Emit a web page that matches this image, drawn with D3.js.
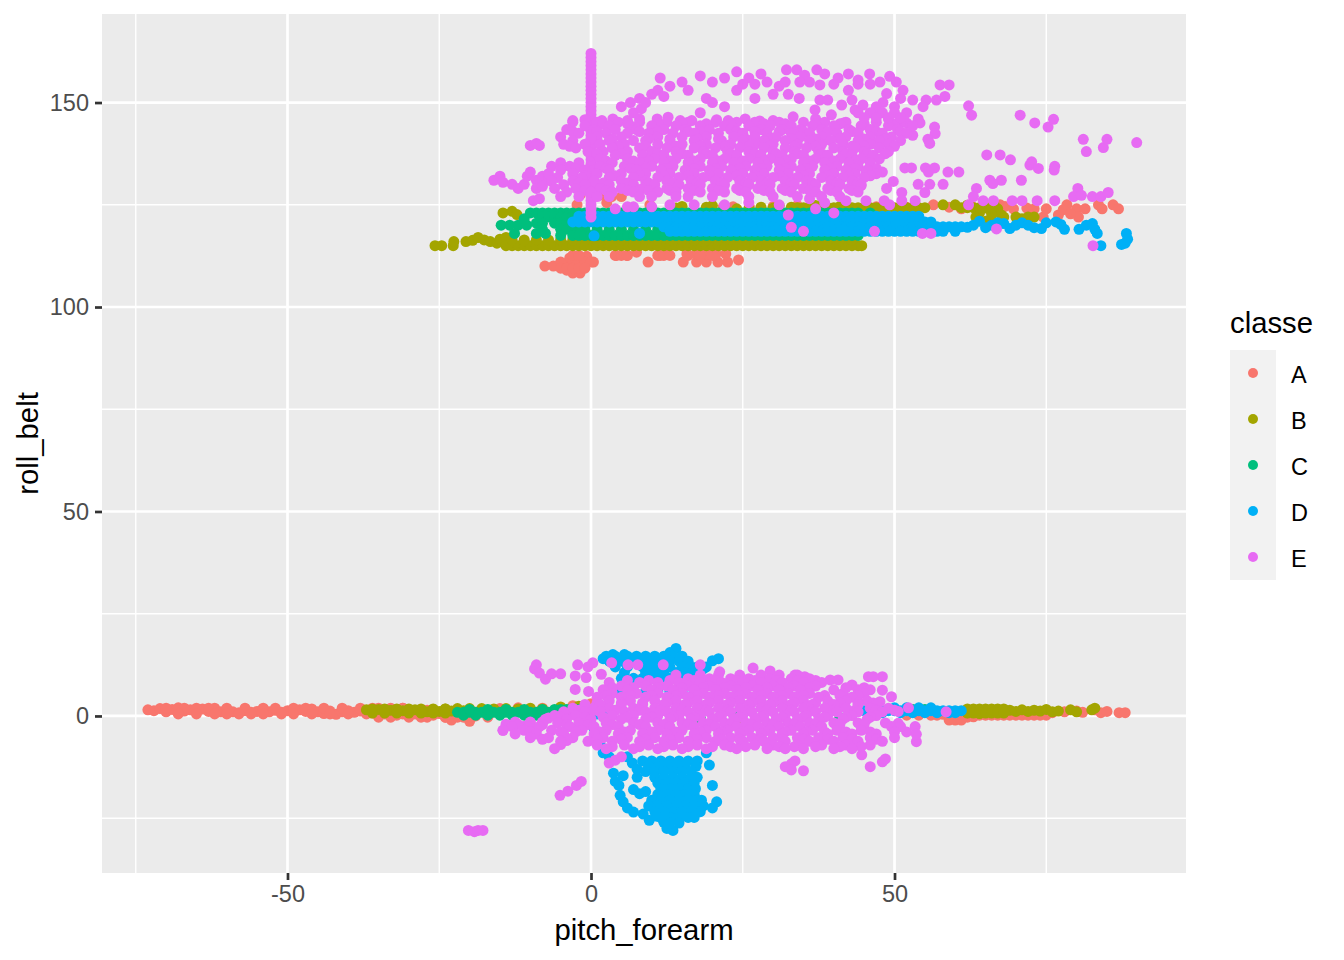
<!DOCTYPE html>
<html>
<head>
<meta charset="utf-8">
<script src="https://cdn.jsdelivr.net/npm/d3@7"></script>
<style>
body { margin: 0; background: white; }
text { font-family: "Liberation Sans", Arial, sans-serif; }
</style>
</head>
<body>
<script>
// values: [pitch_forearm, roll_belt]
var classA = [
[-73,1.5],[-72,1.3],[-71,1.8],[-70,1],[-69,1.6],[-68,2],[-67,1.2],[-66,1.5],[-65,1.2],[-64,1.7],[-63,1.1],[-62,1.9],[-61,1],[-60,1.5],[-59,1],[-58,.8],[-57,1.3],[-56,.9],[-55,1.1],[-54,1.7],[-53,1],[-52,1.4],[-51,.9],[-50,1.3],[-49,.9],[-48,1.5],[-47,1.1],[-46,1.7],[-45,1],[-44,.6],[-43,1.2],[-42,.4],[-41,1],[-40,1.3],[-39,.9],[-38,1.2],[-37,1],[-36,.7],[-35,1.2],[-34,.5],[-33,1.6],[-32,.2],[-31,1.9],[-30,.4],[-29,1.1],[-28,-.1],[-27,1.4],[-26,.2],[-25,.6],[-24,-.3],[-23,-1],[-22,.8],[-20,-1.3],[-19,0],[-17,-.3],[-15,1.8],[-12,2],[-8,1.9],
[-3,2.5],[0,3],[55,1],[58,.4],[60,-.8],[61,.2],[62,-.3],[63,-.2],[64,.4],[66,.6],[68,.9],[70,.8],[72,.9],[74,.6],[76,.8],[78,1],[80,1.2],[81,.9],[83,1.5],[84,.8],[85,1.1],[87,.8],[88,.8],
[-7.6,110],[-6.2,110],[-4.6,110.6],[-3.5,112],[-1.8,112],[-.7,112.4],[.4,111],[-4,109],[-3,108.3],[-1.8,108.3],[-1.3,109.8],[-2.6,110.4],[9.4,111],[4.2,112.6],[5.9,112.6],[7.5,113.4],[11.4,112.6],[12.7,113],[15.2,111],[17.4,111],[19,111],[20.9,111],[22.5,111],[24.3,111.5],[15.8,113],[17.4,113],[19,113],[20.6,113],[22.2,113],
[-1.8,127.4],[-.1,129],[1.5,127.4],[3.4,127],[5,127],[2.6,125.5],[-2.3,125],[9.7,125],[21.8,124.5],[23.4,124.5],[26.1,124.5],[30,124.6],[34,124.8],[38,124.6],[42,124.8],[47,124.5],[52,124.4],[56.4,125],[59,124.4],[61,124],[63,124.4],[65,124.6],[67.4,125],[68.2,124.6],[69.6,124],[71.8,124.2],[73,124],[74.5,122],[75,124],[77,122.5],[78.4,125],[77.8,123.8],[80,124],[80.3,122],[81.4,124],[79,122.8],[83.6,125],[84.2,124],[86,125],[86.9,124]
];
// rows of the same class: [roll_belt, [pitch_forearm, ...]]
var classA_rows = [
[1.9,[-70,-67,-65,-63,-60,-57,-54,-52,-49,-47,-44,-41,-38,-36,-35,-33,-31]],
[.5,[-68,-65,-62,-60,-58,-56,-54,-51,-49,-46,-43,-40,-37,-35,-33,-31,-29,-27]],
[-.3,[-35,-33,-30,-28,-27,-24,-22,-21,-20]],
[.2,[52,54,56,57,59,60,61,62,63,64,65,66,67,68,69,70,71,72,73,74,75]],
[-1,[59,60,61]],
[111,[-5,-3,-2,-1,0]],
[109.5,[-5,-4,-3,-2,-1]],
[112.6,[-3,-2,4,5,6,11,12,13,16,18,20]]
];
var classB = [
[-37,1.5],[-36,1.2],[-35,1.6],[-34,1.1],[-33,1.4],[-32,1.1],[-31,1.3],[-30,1],[-29,1.5],[-28,.9],[-27,1],[-26,1.6],[-25,1.1],[-24,1.7],[-23,1.2],[-22,1.8],[-21,1.3],[-20,1.8],[-18,1.8],[-16,1.7],[-14,1.8],[-12,1.7],[-10,1.9],[-8,1.7],[-5,2.2],[-2,2.4],[18,-.9],[24,-.9],[31,3.8],
[62,.8],[63,1.2],[64,.6],[65,1.2],[66,1],[67,1.6],[68,1],[69,1.4],[70,1.1],[71,1.5],[72,1.1],[73,1.4],[74,1.2],[75,1.6],[76,1],[77,1.2],[79,1.5],[80,1],[82.5,1.5],[83,1.9],
[-25.7,115],[-24.6,115],[-22.7,115],[-22.6,116],[-20.6,116],[-19.5,116.3],[-18.6,117],[-17.6,116.4],[-16.6,116],[-15.5,115.6],[-15,116.6],[-14,117],
[-14.5,123],[-13,123.4],[-12.2,122.6],
[10,124],[14,124.2],[15,124.6],[19,124.4],[20,124.8],[24,124],[26,124],[28,124.4],[30,124.2],[31,124.8],[33,124.4],[37,124.8],[41,124.6],[42,125],[58,125],[60,125],[62,124.9],[63.4,122],[64,123],[65.5,124],[66.4,125],[67,124],[67.6,122.5],[66,122.5],[65,121],[68,122],[70,122],[71,121.6],[72,122],[73,122],
[-2,120],[15,116],[28,123.2]
];
var classB_rows = [
[115,[-14,-13,-12,-11,-10,-9,-8,-7,-6,-5,-4,-3,-2,-1,0,1,2,3,4,5,6,7,8,9,10,11,12,13,14,15,16,17,18,19,20,21,22,23,24,25,26,27,28,29,30,31,32,33,34,35,36,37,38,39,40,41,42,43,44,44.6]],
[116.4,[-13,-11,-9,-7,-5,-3,-1,1,3,5,7,9,11,13,15,17,19,21,23,25,27,29,31,33,35,37,39,41,43]],
[124.3,[34,35,36,37,38,39,40,41,42,43,44,45,46,47,48,49,50,51,52,53,54,55,61,62,63,64,65,66]],
[1.7,[-36,-34,-32,-30,-28,-26,-24,62,63,64,65,66,67,68]],
[.7,[-36,-34,-32,-30,-28,-26,-24,62,63,64,65,66,67,68]]
];
var classC = [
[18,-.5],[24,-.2],[30,3.5],[41,-.4],
[-14.8,120],[-13.4,120],[-12,120],[-10.6,120],[-12.6,118],[-11,121.6],[-10,123],[-9,118],[-7.5,118],[-9,120.5]
];
var classC_rows = [
[.9,[-22,-21,-20,-19,-18,-17,-16,-15,-14,-13,-12,-11,-10,-9,-8,-7,-6,-5,-4,-3,-2,-1,0,1,2]],
[.2,[-21,-19,-17,-15,-13,-11,-9,-7]],
[1.6,[-20,-17,-14,-11,-8,-6,-5,-4,-3,-2,-1,0,1,2,53,54,55]],
[123,[-9,-8,-7,-6,-5,-4,-3,-2,-1,0,1,2,3,4,5,6,7,8,9,10,11,12,13,14,15,16,17,18,19,20,21,22,23,24,25,26,27,28,29,30,31,32,33,34,35,36,37,38,39,40,41,42,43,44,46]],
[122,[-8,-7,-6,-5,-4,-3,-2,-1]],
[120.5,[-8,-6,-5,-4,-3,-2,-1]],
[119,[-8,-5,-4,-3,-2,-1,1,3,5,7,9,11,13,15,17,19]],
[117.5,[-5,-3,-2,-1,0,1,2,3,4,5,6,7,8,9,10,11,12,13,14,15,16,17,18,19,20,21,22,23,24,25,26,27,28,29,30,31,32,33,34,35,36,37,38,39,40,41,42,43,44]]
];
var classD = [
[62,119.5],[63,120],[64,121],[65,119.4],[66,120],[67,120.6],[68,120.4],[69,119.2],[70,120],[71,120.6],[72,120],[73,119.4],[74.2,119.2],[75,120.6],[76.6,120.8],[77.4,120.2],[78,119],
[80.4,119],[81.6,120],[82.6,120.4],[83,119],[83.4,118],[84,115],[87.4,115.3],[88,115.6],[88.4,116.6],[88.2,118],[.5,117.4],
[8,118],[2,14],[3,13.6],[3.6,15],[5.5,15],[13,15.5],[14,16.5],[19,12],[20,13.5],[21,14],[18.5,11.5],[17.8,10],
[3,6],[4,6],[5,5.5],[2,1],[1,.5],[0,-2],[.5,-3],[1,-5],[1.5,-7],[2,-9],[3,-10],
[6,-10],[6.8,-11.5],[7.6,-13],[7.6,-15],[3.7,-14],[5.3,-14.6],[4,-16],[4.6,-17],[7,-18],[8,-19],[9,-18.5],[4.8,-19.4],[5.3,-21],[6,-22.5],[7,-23.5],
[8.6,-24],[9.6,-25.5],[10.8,-24.5],[12,-26],[12.5,-27.5],[13.5,-28],[14.5,-25],[20,-17],[20.7,-21],[20,-22.5],[19,-9],[19.5,-12]
];
var classD_rows = [
[122.2,[-2,-1,0,1,2,3,4,5,6,7,8,9,10,11,12,13,14,15,16,17,18,19,20,21,22,23,24,25,26,27,28,29,30,31,32,33,34,35,36,37,38,39,40,41,42,43,44,45,46,47,48,49,50,51,52,53,54]],
[120.8,[-3,-2,-1,0,1,2,3,4,5,6,7,8,9,10,11,12,13,14,15,16,17,18,19,20,21,22,23,24,25,26,27,28,29,30,31,32,33,34,35,36,37,38,39,40,41,42,43,44,45,46,47,48,49,50,51,52,53,54,55,56]],
[119.6,[12,13,14,15,16,17,18,19,20,21,22,23,24,25,26,27,28,29,30,31,32,33,34,35,36,37,38,39,40,41,42,43,44,45,46,47,48,49,50,51,52,53,54,55,56,57,58,59,60,61]],
[118.5,[13,14,15,16,17,18,19,20,21,22,23,24,25,26,27,28,29,30,31,32,33,34,35,36,37,38,39,40,41,42,43,44,45,46,47,48,49,50,51,52,53,54,55,56,57,58,60]],
[14.6,[2.5,4,6,7.5,9,10.5,12,13.5,15]],
[13.4,[3,5,7,8.5,10,11.5,13,14.5,16]],
[12,[4,6,8.5,10,11.5,13,15,16.5,17.5]],
[10.6,[5.5,9,10.5,12,14,15.5,17]],
[9.2,[5,7,8.5,10,11.5,13,14.5,16,17.5]],
[6,[7,9,11,13,15,17]],
[-11,[8.5,10,11.5,13,14.5,16,17.5]],
[-12.3,[9.5,11,12.5,14,15.5,17.3]],
[-13.6,[9,10.5,12,13.5,15,16.5]],
[-15,[10.5,12,13.5,15,16.5,17.5]],
[-16.4,[11,12.5,14,15.5,17]],
[-17.8,[11.5,13,14.5,16,17.2]],
[-19.2,[11,12.5,14,15.5,17]],
[-20.6,[10,11.5,13,14.5,16,17.5,18.2]],
[-22,[9.5,11,12.5,14,15.5,17,18.5]],
[-23.4,[10.5,12,13.5,15,16.5,18]],
[-24.8,[11.5,13,14.5,16,17]],
[-26.2,[13,14.5]],
[1.3,[44,45,46,47,48,49,50,51,52,53,54,55,56,57,58,59,60,61]],
[2,[50,52,54,56]],
[.8,[46,48,51,53,55,57,59,60]]
];
var classE = [
[0,122],[0,123],[0,124],[0,125],[0,126],[0,127],[0,128],[0,129],[0,130],[0,131],[0,132],[0,133],[0,134],[0,135],[0,136],[0,137],[0,138],[0,139],[0,140],[0,141],[0,142],[0,143],[0,144],[0,145],[0,146],[0,147],[0,148],[0,149],[0,150],[0,151],[0,152],[0,153],[0,154],[0,155],[0,156],[0,157],[0,158],[0,159],[0,160],[0,161],[0,162],
[-16,131],[-15,132],[-14.5,130.5],[-13,130],[-12,129],[-11,130],[-10.5,132],[-10,133],[-9,131],[-9,129],[-8,132],[-8,129.5],[-7,131],[-10,139.5],[-9,140],[-8.5,139.5],[-9.5,126],[-8.5,126.5],
[-3,145.6],[-1,145.8],[1.8,145.6],[3.6,146],[6,145.6],[8,146],[10.9,146],[12.7,146.4],[14.7,145.6],[16.6,145.6],[18,147.5],[20.7,145.8],[22.6,145.6],[25.4,146],[27.8,145.5],[30,145.6],[33.3,146.5],[37,146],[41.6,145],[46.8,146.9],[49,146],[51,146],[52,145],[53,142],
[53.9,146],[54.2,145],[56.6,144],[56.7,142.4],[55.5,141],[55.8,140],
[5,149],[6.5,150],[8,151],[7,147.5],[8.3,148.5],[10,152],[9,150],[11,153],[12,151.5],[11.4,156],[13,154],[15,155],[16,153],[19,151],[20,150],[22,149],[18,156.5],[20,155],[22,156],[24,157.5],[26,156],[28,157],[24,153],[27,151],[30,152],[29,155],[31,154],
[32.2,158],[33.9,158],[35.2,156.7],[37.2,158],[38.5,157],[37.7,154.3],[34.4,155],[36,155],[32,155],[32.5,152],[34.3,151],
[40.7,156],[42.4,157],[44,155.5],[45.9,157],[42.4,153],[47.6,155],[49.2,156.4],[50.3,155],[51.4,153],[48.7,152.2],[48.1,150],[53,150.6],[55.2,150.6],[54.7,149],[56.9,150.6],[58.3,151.5],[37.7,150.6],[39,150.6],[36.9,148.2],[39.6,147],[41.3,149.4],[43,150.6],[43.5,148.2],[44.8,149.4],[50,149],[51,151],[47,149],
[57.5,154.3],[59,154.3],[62.2,149.2],[62.7,146.9],[70.7,146.9],[73.1,145],[75.3,144],[76.2,145.9],[81.1,141],[81.6,138],[84.4,139],[85,141],[89.9,140.2],
[65.2,137.2],[67.4,137.2],[69.1,136],[72.3,134.7],[72.6,135.5],[73.7,133.9],[76.4,134.4],[76.3,133.5],[70.9,131],[65.7,131],[67.6,131],[66.2,130.2],[63.5,129],[63,127],[62.2,125],[64.6,126],[66.3,126],[69.4,126],[71,126],[73.5,126],[76.4,126],[80.2,129],[79.5,127],[80.8,127.3],[82.6,127],[84,127],[85.2,128],[66.8,119.1],[82.7,115],
[51.7,134],[52.8,134],[55.1,134],[56.6,134],[55.6,133],[58.8,133],[60.6,133],[48,133],[45.3,133],[49.8,130.7],[48.7,129],[51.2,128],[53.9,130],[55,128],[55.8,130],[58,130],[44.5,129.7],[45.3,126],[48.3,126],[51.2,126],[53.4,126],[49.2,125],[42,126],[38.5,125.5],[36,126.5],[31,125],[26,125.5],[22,125],[17,125],[13,125],[10,124.5],[7,124.5],[6,124.5],[4,124],[33,119.5],[35,118.5],[37,124],[40,123],[46.7,118.5],[54.6,118],[56,118],[32.5,122.5],
// lower group
[-14.5,-3.5],[-14,-2],[-12.5,-1.5],[-11,-2.5],[-10,-1.5],[-9,-3.5],[-8,-1.5],[-7,-.5],[-5,0],[-3,1],[-1,1.5],[.5,2],[-5,-7],[-6,-8],[-4,-6],
[-9,12.5],[-9.3,11.5],[-8.5,10.5],[-7.5,9],[-6.5,10.3],[-5,10.3],[-2.2,12.5],[.3,13],[-.5,12],[-2.6,9.8],[-.8,9.4],[1.7,10.2],[-2.6,6.5],[-.4,6],[3.4,13],[6.1,12.5],[7.7,12.5],[11.9,12.5],[18,12.5],
[-5.1,-19.4],[-3.8,-18.4],[-2.4,-17],[-1.6,-16],[-20.2,-28],[-19.2,-28.3],[-18.6,-28],[-17.8,-28],[3,-11.5],[4,-10.8],[5,-10],
[21.2,10.8],[26.7,11.7],[29.5,11],[33.6,10],[35.2,9.6],[37.2,8],[39.4,8.8],[40.7,8.8],[43,7.6],[45.7,9.6],[48,9.6],[46.5,9.6],[48,6.3],[49.5,4.7],[47.6,3.5],
[50.6,1.1],[52.3,2],[58.5,1],[50.6,-1.8],[53.4,-2.6],[53.6,-6.3],[52,-3.9],[53.6,-4.5],
[44.6,-9.5],[48,-11.2],[48.5,-10.5],[46,-12.4],[33.6,-11],[33,-11.7],[32,-12.4],[33,-13.2],[35,-13.4]
];
var classE_rows = [
[145.2,[-3,1,4.5,8,12.5,16,20.5,24,27,31,35,38.5,42,47,51]],
[144.8,[2,6,11,15,19,23,28.5,32,37,41,45,50]],
[144.3,[-1,3,6.5,10,14,18,22,26,29.5,33,36.5,40,44.5,49,53]],
[143.4,[-4,.5,4,7.5,12,15.5,19.5,23,28,31.5,34.5,38,42.5,46,50.5]],
[142.9,[-3,1,8,11,16,18,24,27,31,35,39,43,47,51]],
[142.5,[-2,2.5,6,9.5,13.5,17,21,25,29,33,36,40.5,44,48,52]],
[141.6,[-5,1,5,11,15,19,23.5,27,30.5,34.5,38,42,46,49.5]],
[141.1,[0,3.5,9.5,13,17.5,21,25.5,29,33,37,41,45,48.5]],
[140.7,[-3,3,7,9,13,17,21.5,25,28.5,32,36,39.5,44,47.5,51]],
[139.8,[-4.5,-1,1.5,5.5,11,15,19,23,27,30,34,38,41.5,46,49]],
[139.3,[-3.5,4.5,9,14,18,22,26,29.5,33.5,37,43,45,50]],
[138.9,[-2.5,3.5,8,12.5,17,20.5,24.5,28.5,32,35.5,40,43.5,47.5]],
[138,[-.5,2,6,10,14,18.5,22.5,26,30,33.5,37.5,41.5,45,49]],
[137.5,[1,5,11,15,19,23,27,30.5,34,38,42,45.5,48.5]],
[137.1,[4,8.5,12,16,20,24,28,31.5,35,39,43,46.5]],
[136.2,[1.5,6,10.5,14,18,22,26,29.5,33,37,41,44.5,47.5]],
[135.7,[2.5,7,9.5,13,17,21,25,28.5,32,36,40,43.5]],
[135.3,[-5,-2,3.5,8,12,16,20,23.5,27.5,31,35,38.5,42.5,46]],
[134.4,[-6.5,-3.5,1.5,5.5,10,13.5,18,21.5,25.5,29,33,36.5,40.5,44]],
[133.9,[-2.5,2.5,6.5,9,12.5,17,20.5,24.5,28,32,35.5,39.5,43.5,47]],
[133.5,[-5,-1,3,7.5,11.5,15.5,19.5,23,27,31,34.5,38.5,42,45.5]],
[132.6,[-7,-3,1,5,9,13,17,21,25,28.5,32.5,36,40,43.5,47]],
[132.1,[-1,4,8,12,16,19.5,24,27,31,35,39,42.5,46]],
[131.7,[-5.5,-1.5,3,7,11,14.5,18.5,22.5,26.5,30,34,38,41.5,45]],
[130.8,[-6.5,-3,.5,5,9,12.5,16.5,20.5,24.5,28,32,35.5,39.5,43]],
[130.3,[-2,2,6,9.5,13.5,17.5,21.5,25.5,29,33,36.5,40.5,44]],
[129.9,[-4.5,-1,3,7,10.5,14.5,18,22,26,29.5,33.5,37,41,44.5]],
[129,[-6,-2.5,1.5,5,8.5,12.5,16,20,24,27.5,31.5,35,39,42.5]],
[128.5,[-1,2.5,6,9.5,13,17,21,24.5,28.5,32,36,39.5,43]],
[128.1,[-4,0,3.5,7,11,14,18,22,25.5,29.5,33,37,40.5,44]],
[127,[-5,-2,1,3,8,10,14,16,20,26,30,34,38,41]],
[147.5,[44,46,48,50,52]],
[146.3,[45,47,49,51]],
[154.5,[25,27,40,44,46]],
[10,[14,18,21,24.5,28,31,34]],
[9.1,[16,19.5,23,26,29.5,33,36]],
[8.7,[6,9.5,13,17,20.5,24,27,30.5,34,37]],
[8.2,[3,8,11,14.5,18,21.5,25,28,31.5,35,38]],
[7.3,[5,9,12.5,16,19.5,23,26.5,30,33.5,37]],
[6.9,[3.5,7,11,15,18.5,22,25.5,29,32.5,36,42,45]],
[6.4,[2,6,10,13.5,17,20.5,24,27.5,31,34.5,40,44,46]],
[5.5,[3.5,7.5,11,15,18.5,22,25.5,29,32.5,36,41.5,45]],
[5,[2.5,6.5,10,14,17.5,21,24.5,28,31.5,35,38.5,41,44]],
[4.6,[1,5,9,12.5,16,19.5,23,26.5,30,33.5,37.5,43]],
[3.7,[3,6.5,10.5,14,17.5,21,24.5,28,31.5,35,39,42,45.5]],
[3.2,[1,5,8.5,12.5,16,19.5,23,26.5,30,33.5,37,41,44,46.5]],
[2.8,[-1,1.5,5,8.5,12,15.5,19,22.5,26,29.5,33,36.5,40,44,47]],
[1.9,[-3,3,7,10.5,14,17.5,21,24.5,28,31.5,35,38.5,42,46,49]],
[1.4,[-2,.5,4,8,11.5,15,19,22.5,26,29,33,36.5,40,43.5,47,50]],
[1,[-4.5,-1,1.5,5.5,9,12.5,16,19.5,23,26.5,30,33.5,37,40.5,44,48]],
[.1,[-6,-2.5,3.5,7,11,14.5,18,21.5,25,28.5,32,35.5,39,43,47]],
[-.3,[-5,-1,2,6,10,13.5,17,21,24.5,28,31.5,35,38.5,42,46]],
[-.8,[-7.5,-4,0,5,9,13,16.5,20,23.5,27,30.5,34,37.5,41.5,45.5]],
[-1.7,[-10,-5.5,-2,2.5,7,11,15,18.5,22,25.5,29,32.5,36,40,44,48.5]],
[-2.1,[-12,-8,-4,-.5,3.5,8,12,16,19.5,23,26.5,30,33.5,37,41,45]],
[-2.6,[-13,-8.5,-3.5,.5,4.5,9,13,17,20.5,24,27.5,31,34.5,38,49.5,51]],
[-3.5,[-14.5,-11,-6.5,-1.5,2.5,6.5,11,15,19,22.5,26,29.5,33,36.5,40.5,44.5]],
[-3.9,[-10,-5,-2.5,1.5,5.5,10,14,18,21.5,25,28.5,32,35.5,38.5,42,46,50]],
[-4.4,[-12.5,-9,-4.5,.5,4.5,8.5,12.5,17,21,24.5,28,31.5,35,39,43,47]],
[-5.3,[-10,-7,-3,2,6,10.5,14.5,19,23,26.5,30,34,37.5,41.5,46,50]],
[-5.7,[-8,-4,1,5,9,13,17.5,21.5,24.5,28,31.5,35,39,43,47]],
[-6.2,[-5,-.5,3.5,8,12,16,20.5,25,28.5,32,36,40,44,48]],
[-7.1,[1,5.5,9.5,13.5,17.5,22,27,30,34,38,42,46]],
[-7.5,[3.5,8,12,16,20,23,25.5,31,33.5,37,41,44.5]],
[-8,[2.5,7,11,15,19,24,29,32,35,40,43]]
];

var seriesNames = ["A", "B", "C", "D", "E"];
var seriesColors = ["#F8766D", "#A3A500", "#00BF7D", "#00B0F6", "#E76BF3"];
var xTicks = [-50, 0, 50];
var xMinor = [-75, -25, 25, 75];
var yTicks = [0, 50, 100, 150];
var yMinor = [-25, 25, 75, 125];

function expandRows(rows) {
  return d3.merge(rows.map(function(r) {
    return r[1].map(function(v) { return [v, r[0]]; });
  }));
}
var seriesData = [
  classA.concat(expandRows(classA_rows)),
  classB.concat(expandRows(classB_rows)),
  classC.concat(expandRows(classC_rows)),
  classD.concat(expandRows(classD_rows)),
  classE.concat(expandRows(classE_rows))
];

var w = 1344;
var h = 960;
var panel = { left: 102, right: 1186, top: 14, bottom: 873 };
var pointR = 5.5;

var svg = d3.select("body")
  .append("svg")
  .attr("width", w)
  .attr("height", h)
  .style("display", "block");

var x = d3.scaleLinear().domain([-80.56, 98.02]).range([panel.left, panel.right]);
var y = d3.scaleLinear().domain([-38.4, 171.65]).range([panel.bottom, panel.top]);

svg.append("rect")
  .attr("x", panel.left)
  .attr("y", panel.top)
  .attr("width", panel.right - panel.left)
  .attr("height", panel.bottom - panel.top)
  .attr("fill", "#EBEBEB");

// grid, minor under major
function gridX(vals, sw) {
  svg.append("g").selectAll("line").data(vals).enter().append("line")
    .attr("x1", x).attr("x2", x)
    .attr("y1", panel.top).attr("y2", panel.bottom)
    .attr("stroke", "white").attr("stroke-width", sw);
}
function gridY(vals, sw) {
  svg.append("g").selectAll("line").data(vals).enter().append("line")
    .attr("y1", y).attr("y2", y)
    .attr("x1", panel.left).attr("x2", panel.right)
    .attr("stroke", "white").attr("stroke-width", sw);
}
gridX(xMinor, 1.4);
gridY(yMinor, 1.4);
gridX(xTicks, 2.7);
gridY(yTicks, 2.7);

// points, one layer per class
seriesData.forEach(function(pts, i) {
  svg.append("g")
    .attr("fill", seriesColors[i])
    .selectAll("circle")
    .data(pts)
    .enter()
    .append("circle")
    .attr("cx", function(d) { return x(d[0]); })
    .attr("cy", function(d) { return y(d[1]); })
    .attr("r", pointR);
});

// axes
var xAxis = svg.append("g")
  .attr("transform", "translate(0," + panel.bottom + ")")
  .call(d3.axisBottom(x).tickValues(xTicks).tickSize(7).tickPadding(5).tickFormat(d3.format("d")));
var yAxis = svg.append("g")
  .attr("transform", "translate(" + panel.left + ",0)")
  .call(d3.axisLeft(y).tickValues(yTicks).tickSize(7).tickPadding(6).tickFormat(d3.format("d")));

[xAxis, yAxis].forEach(function(a) {
  a.select(".domain").remove();
  a.selectAll("line").attr("stroke", "#333333").attr("stroke-width", 2.7);
  a.selectAll("text")
    .attr("fill", "#4D4D4D")
    .style("font-family", '"Liberation Sans", Arial, sans-serif')
    .style("font-size", "23.5px");
});
// R prints a plain hyphen in tick labels
xAxis.selectAll("text").text(function(d) { return String(d); });

svg.append("text")
  .attr("x", (panel.left + panel.right) / 2)
  .attr("y", 940)
  .attr("text-anchor", "middle")
  .attr("font-size", "29.3px")
  .text("pitch_forearm");

svg.append("text")
  .attr("transform", "translate(38," + (panel.top + panel.bottom) / 2 + ") rotate(-90)")
  .attr("text-anchor", "middle")
  .attr("font-size", "29.3px")
  .text("roll_belt");

// legend
var legendX = 1230;
var legendY = 350;
var keySize = 46;

svg.append("text")
  .attr("x", legendX)
  .attr("y", 333)
  .attr("font-size", "29.3px")
  .text("classe");

var keys = svg.append("g").selectAll("g")
  .data(seriesNames)
  .enter()
  .append("g")
  .attr("transform", function(d, i) { return "translate(" + legendX + "," + (legendY + i * keySize) + ")"; });

keys.append("rect")
  .attr("width", keySize)
  .attr("height", keySize)
  .attr("fill", "#F2F2F2");

keys.append("circle")
  .attr("cx", keySize / 2)
  .attr("cy", keySize / 2)
  .attr("r", 5)
  .attr("fill", function(d, i) { return seriesColors[i]; });

keys.append("text")
  .attr("x", keySize + 15)
  .attr("y", keySize / 2 + 10)
  .attr("font-size", "23.5px")
  .text(function(d) { return d; });
</script>
</body>
</html>
